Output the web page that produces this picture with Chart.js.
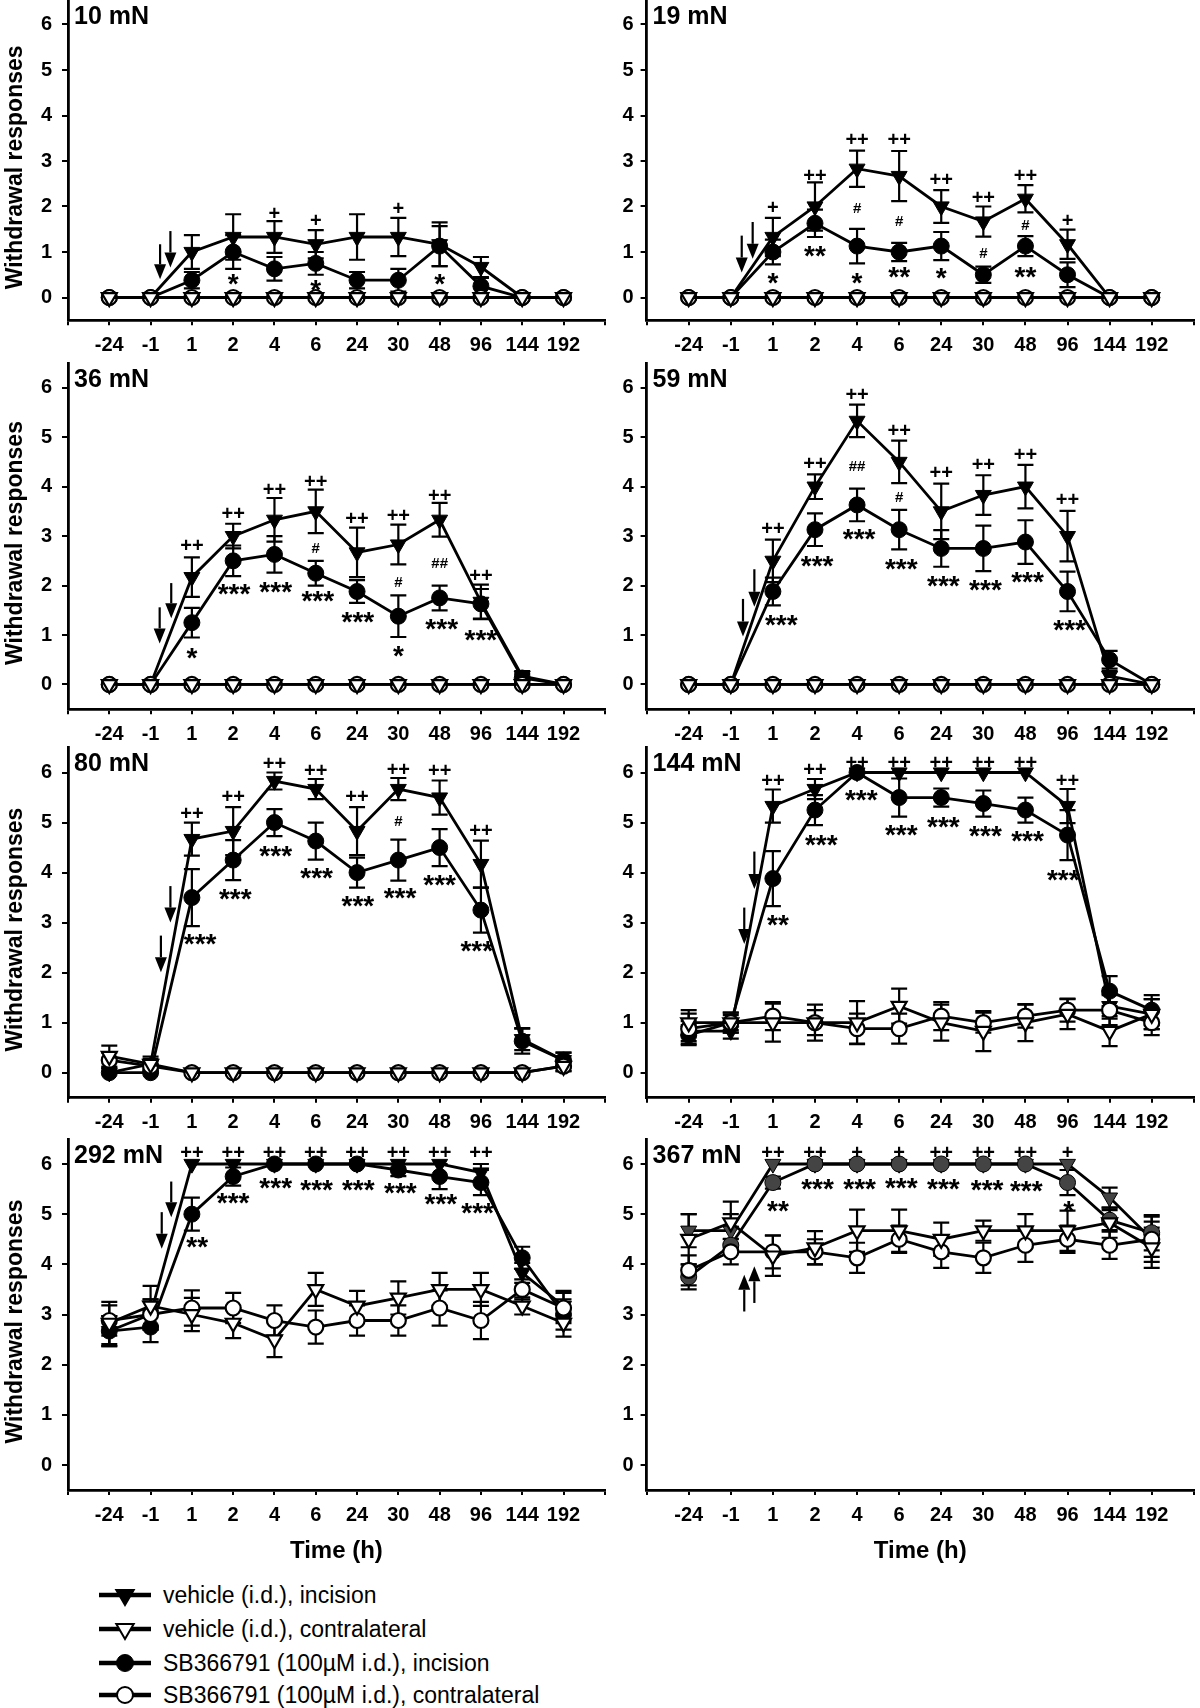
<!DOCTYPE html>
<html>
<head>
<meta charset="utf-8">
<script src="https://cdn.jsdelivr.net/npm/chart.js@4.4.1/dist/chart.umd.min.js"></script>
<style>
  html, body { margin:0; padding:0; background:#fff; }
  body { width:1200px; height:1708px; position:relative; overflow:hidden; font-family:"Liberation Sans", Arial, sans-serif; }
  canvas.panel { position:absolute; }
  .lg { position:absolute; left:99px; height:30px; display:flex; align-items:center; font-size:23px; color:#000; white-space:nowrap; }
  .lg svg { width:52px; height:30px; margin-right:12px; flex:none; }
</style>
</head>
<body>
<script>
// ================= DATA =================
const categories = ['-24','-1','1','2','4','6','24','30','48','96','144','192'];
const xTickIdx = [-1,0,1,2,3,4,5,6,7,8,9,10,11,12];
const yTicks = [0,1,2,3,4,5,6];
const panelLabels = ['10 mN','19 mN','36 mN','59 mN','80 mN','144 mN','292 mN','367 mN'];
const legendLabels = ['vehicle (i.d.), incision','vehicle (i.d.), contralateral','SB366791 (100\u00b5M i.d.), incision','SB366791 (100\u00b5M i.d.), contralateral'];
const yTitle = 'Withdrawal responses';
const xTitle = 'Time (h)';

// 10 mN
const vehInc10    = [0,0,1.0,1.33,1.33,1.17,1.33,1.33,1.17,0.67,0,0];
const vehInc10Sem = [0,0,0.37,0.5,0.35,0.31,0.5,0.42,0.48,0.22,0,0];
const vehCon10    = [0,0,0,0,0,0,0,0,0,0,0,0];
const vehCon10Sem = [0,0,0,0,0,0,0,0,0,0,0,0];
const sbInc10     = [0,0,0.38,1.0,0.63,0.75,0.38,0.38,1.13,0.25,0,0];
const sbInc10Sem  = [0,0,0.18,0.37,0.26,0.25,0.18,0.25,0.44,0.18,0,0];
const sbCon10     = [0,0,0,0,0,0,0,0,0,0,0,0];
const sbCon10Sem  = [0,0,0,0,0,0,0,0,0,0,0,0];
const marks10  = [[4,1.86,'+'],[5,1.71,'+'],[7,1.97,'+'],[3,0.44,'*'],[5,0.31,'*'],[8,0.46,'*']];
const arrows10 = [[1.23,1.17,0.40],[1.48,1.46,0.66]];

// 19 mN
const vehInc19    = [0,0,1.33,2.0,2.83,2.67,2.0,1.67,2.17,1.17,0,0];
const vehInc19Sem = [0,0,0.42,0.53,0.4,0.55,0.36,0.33,0.3,0.32,0,0];
const vehCon19    = [0,0,0,0,0,0,0,0,0,0,0,0];
const vehCon19Sem = [0,0,0,0,0,0,0,0,0,0,0,0];
const sbInc19     = [0,0,1.0,1.63,1.13,1.0,1.13,0.5,1.13,0.5,0,0];
const sbInc19Sem  = [0,0,0.27,0.3,0.38,0.2,0.31,0.18,0.22,0.27,0,0];
const sbCon19     = [0,0,0,0,0,0,0,0,0,0,0,0];
const sbCon19Sem  = [0,0,0,0,0,0,0,0,0,0,0,0];
const marks19  = [[2,1.99,'+'],[3,2.69,'++'],[4,3.48,'++'],[5,3.48,'++'],[6,2.6,'++'],[7,2.21,'++'],[8,2.7,'++'],[9,1.71,'+'],
                  [4,1.97,'#'],[5,1.69,'#'],[7,0.99,'#'],[8,1.61,'#'],
                  [2,0.48,'*'],[3,1.07,'**'],[4,0.48,'*'],[5,0.6,'**'],[6,0.59,'*'],[8,0.6,'**']];
const arrows19 = [[1.26,1.36,0.55],[1.52,1.66,0.85]];

// 36 mN
const vehInc36    = [0,0,2.17,3.0,3.33,3.5,2.67,2.83,3.33,1.67,0.17,0];
const vehInc36Sem = [0,0,0.4,0.25,0.44,0.44,0.5,0.4,0.34,0.35,0.1,0];
const vehCon36    = [0,0,0,0,0,0,0,0,0,0,0,0];
const vehCon36Sem = [0,0,0,0,0,0,0,0,0,0,0,0];
const sbInc36     = [0,0,1.25,2.5,2.63,2.25,1.88,1.38,1.75,1.63,0.13,0];
const sbInc36Sem  = [0,0,0.3,0.31,0.37,0.25,0.23,0.42,0.25,0.3,0.08,0];
const sbCon36     = [0,0,0,0,0,0,0,0,0,0,0,0];
const sbCon36Sem  = [0,0,0,0,0,0,0,0,0,0,0,0];
const marks36  = [[2,2.81,'++'],[3,3.47,'++'],[4,3.96,'++'],[5,4.11,'++'],[6,3.37,'++'],[7,3.42,'++'],[8,3.84,'++'],[9,2.22,'++'],
                  [5,2.77,'#'],[7,2.08,'#'],[8,2.46,'##'],
                  [2,0.67,'*'],[3.02,1.97,'***'],[4.03,2.02,'***'],[5.05,1.82,'***'],[6.02,1.4,'***'],[7,0.71,'*'],[8.05,1.27,'***'],[9,1.04,'***']];
const arrows36 = [[1.22,1.56,0.83],[1.5,2.05,1.34]];

// 59 mN
const vehInc59    = [0,0,2.5,4.0,5.33,4.5,3.5,3.83,4.0,3.0,0.17,0];
const vehInc59Sem = [0,0,0.43,0.25,0.33,0.43,0.56,0.4,0.44,0.51,0.1,0];
const vehCon59    = [0,0,0,0,0,0,0,0,0,0,0,0];
const vehCon59Sem = [0,0,0,0,0,0,0,0,0,0,0,0];
const sbInc59     = [0,0,1.88,3.13,3.63,3.13,2.75,2.75,2.88,1.88,0.5,0];
const sbInc59Sem  = [0,0,0.28,0.33,0.33,0.4,0.37,0.46,0.44,0.4,0.18,0];
const sbCon59     = [0,0,0,0,0,0,0,0,0,0,0,0];
const sbCon59Sem  = [0,0,0,0,0,0,0,0,0,0,0,0];
const marks59  = [[2,3.17,'++'],[3,4.48,'++'],[4,5.88,'++'],[5,5.15,'++'],[6,4.29,'++'],[7,4.46,'++'],[8,4.65,'++'],[9,3.76,'++'],
                  [4,4.42,'##'],[5,3.79,'#'],
                  [2.2,1.35,'***'],[3.05,2.53,'***'],[4.05,3.08,'***'],[5.05,2.48,'***'],[6.05,2.14,'***'],[7.05,2.06,'***'],[8.05,2.21,'***'],[9.05,1.24,'***']];
const arrows59 = [[1.29,1.73,0.97],[1.56,2.33,1.57]];

// 80 mN
const vehInc80    = [0,0.17,4.67,4.83,5.83,5.67,4.83,5.67,5.5,4.17,0.67,0.25];
const vehInc80Sem = [0,0.1,0.33,0.48,0.17,0.2,0.48,0.22,0.34,0.47,0.22,0.15];
const vehCon80    = [0.33,0.17,0,0,0,0,0,0,0,0,0,0.13];
const vehCon80Sem = [0.21,0.15,0,0,0,0,0,0,0,0,0,0.1];
const sbInc80     = [0,0,3.5,4.25,5.0,4.63,4.0,4.25,4.5,3.25,0.63,0.25];
const sbInc80Sem  = [0,0,0.57,0.4,0.27,0.37,0.3,0.41,0.37,0.45,0.25,0.15];
const sbCon80     = [0.25,0.13,0,0,0,0,0,0,0,0,0,0.13];
const sbCon80Sem  = [0.15,0.1,0,0,0,0,0,0,0,0,0,0.1];
const marks80  = [[2,5.19,'++'],[3,5.54,'++'],[4,6.19,'++'],[5,6.05,'++'],[6,5.54,'++'],[7,6.07,'++'],[8,6.05,'++'],[9,4.86,'++'],
                  [7,5.03,'#'],
                  [2.2,2.71,'***'],[3.05,3.61,'***'],[4.03,4.48,'***'],[5.02,4.03,'***'],[6.02,3.47,'***'],[7.04,3.63,'***'],[8,3.9,'***'],[8.9,2.57,'***']];
const arrows80 = [[1.48,3.73,3.0],[1.25,2.74,2.01]];

// 144 mN
const vehInc144    = [0.83,0.83,5.33,5.67,6.0,6.0,6.0,6.0,6.0,5.33,1.33,1.17];
const vehInc144Sem = [0.2,0.15,0.33,0.2,0,0,0,0,0,0.34,0.25,0.3];
const vehCon144    = [1.0,1.0,1.0,1.0,1.0,1.33,1.0,0.83,1.0,1.17,0.83,1.17];
const vehCon144Sem = [0.25,0.2,0.38,0.36,0.43,0.35,0.36,0.4,0.37,0.3,0.3,0.3];
const sbInc144     = [0.75,1.0,3.88,5.25,6.0,5.5,5.5,5.38,5.25,4.75,1.63,1.25];
const sbInc144Sem  = [0.2,0.15,0.55,0.3,0,0.38,0.18,0.26,0.25,0.5,0.3,0.3];
const sbCon144     = [0.88,1.0,1.13,1.0,0.88,0.88,1.13,1.0,1.13,1.25,1.25,1.0];
const sbCon144Sem  = [0.3,0.2,0.28,0.25,0.3,0.3,0.28,0.2,0.23,0.23,0.3,0.25];
const marks144  = [[2,5.85,'++'],[3,6.07,'++'],[4,6.22,'++'],[5,6.22,'++'],[6,6.22,'++'],[7,6.22,'++'],[8,6.22,'++'],[9,5.85,'++'],
                   [2.12,3.1,'**'],[3.15,4.7,'***'],[4.1,5.58,'***'],[5.05,4.9,'***'],[6.05,5.06,'***'],[7.05,4.88,'***'],[8.05,4.78,'***'],[8.9,4.0,'***']];
const arrows144 = [[1.56,4.42,3.67],[1.32,3.3,2.57]];

// 292 mN
const vehInc292    = [2.67,3.0,6.0,6.0,6.0,6.0,6.0,6.0,6.0,5.83,3.83,3.17];
const vehInc292Sem = [0.3,0.3,0,0,0,0,0,0,0,0.17,0.2,0.3];
const vehCon292    = [2.83,3.17,3.0,2.83,2.5,3.5,3.17,3.33,3.5,3.5,3.17,2.83];
const vehCon292Sem = [0.42,0.4,0.33,0.3,0.35,0.33,0.3,0.33,0.33,0.33,0.17,0.27];
const sbInc292     = [2.67,2.75,5.0,5.75,6.0,6.0,6.0,5.88,5.75,5.63,4.13,3.0];
const sbInc292Sem  = [0.3,0.3,0.33,0.18,0,0,0,0.12,0.25,0.25,0.22,0.3];
const sbCon292     = [2.88,3.0,3.13,3.13,2.88,2.75,2.88,2.88,3.13,2.88,3.5,3.13];
const sbCon292Sem  = [0.3,0.3,0.35,0.3,0.3,0.33,0.3,0.3,0.35,0.37,0.2,0.3];
const marks292  = [[2,6.24,'++'],[3,6.24,'++'],[4,6.24,'++'],[5,6.24,'++'],[6,6.24,'++'],[7,6.24,'++'],[8,6.24,'++'],[9,6.24,'++'],
                   [2.13,4.49,'**'],[3,5.37,'***'],[4.03,5.67,'***'],[5.02,5.63,'***'],[6.03,5.63,'***'],[7.05,5.57,'***'],[8.03,5.34,'***'],[8.92,5.17,'***']];
const arrows292 = [[1.5,5.65,4.94],[1.27,5.04,4.31]];

// 367 mN
const vehInc367    = [4.67,4.67,6.0,6.0,6.0,6.0,6.0,6.0,6.0,6.0,5.33,4.5];
const vehInc367Sem = [0.33,0.33,0,0,0,0,0,0,0,0,0.2,0.45];
const vehCon367    = [4.5,4.83,4.17,4.33,4.67,4.67,4.5,4.67,4.67,4.67,4.83,4.33];
const vehCon367Sem = [0.5,0.42,0.4,0.33,0.42,0.42,0.33,0.2,0.33,0.4,0.3,0.4];
const sbInc367     = [3.75,4.38,5.63,6.0,6.0,6.0,6.0,6.0,6.0,5.63,4.88,4.63];
const sbInc367Sem  = [0.25,0.13,0.12,0,0,0,0,0,0,0.25,0.2,0.35];
const sbCon367     = [3.88,4.25,4.25,4.25,4.13,4.5,4.25,4.13,4.38,4.5,4.38,4.5];
const sbCon367Sem  = [0.3,0.25,0.33,0.25,0.3,0.27,0.32,0.3,0.33,0.27,0.27,0.35];
const marks367  = [[2,6.24,'++'],[3,6.24,'++'],[4,6.24,'+'],[5,6.24,'+'],[6,6.24,'++'],[7,6.24,'++'],[8,6.24,'++'],[9,6.24,'+'],
                   [2.12,5.2,'**'],[3.06,5.65,'***'],[4.06,5.65,'***'],[5.05,5.66,'***'],[6.05,5.65,'***'],[7.09,5.63,'***'],[8.02,5.61,'***'],[9.03,5.2,'*']];
const arrows367 = [[1.32,3.06,3.79],[1.56,3.23,3.96]];

// ================= LAYOUT / STYLE =================
const FONT = '"Liberation Sans", Arial, sans-serif';
const COLS = [{L:68, R:608, yw:68, lpad:10}, {L:646.6, R:1196.6, yw:56, lpad:7}];
const ROWS = [{T:1.75,B:320.25},{T:363,B:709.2},{T:747.5,B:1097.7},{T:1138.9,B:1490.1}];
const PAD_TOP = 26, PAD_RIGHT = 8;
const LEGEND_Y = [1595, 1629, 1663, 1695];

const panels = [
  {label:panelLabels[0], col:0,row:0, vi:vehInc10, viS:vehInc10Sem, vc:vehCon10, vcS:vehCon10Sem, si:sbInc10, siS:sbInc10Sem, sc:sbCon10, scS:sbCon10Sem, marks:marks10, arrows:arrows10, fill:'#000'},
  {label:panelLabels[1], col:1,row:0, vi:vehInc19, viS:vehInc19Sem, vc:vehCon19, vcS:vehCon19Sem, si:sbInc19, siS:sbInc19Sem, sc:sbCon19, scS:sbCon19Sem, marks:marks19, arrows:arrows19, fill:'#000'},
  {label:panelLabels[2], col:0,row:1, vi:vehInc36, viS:vehInc36Sem, vc:vehCon36, vcS:vehCon36Sem, si:sbInc36, siS:sbInc36Sem, sc:sbCon36, scS:sbCon36Sem, marks:marks36, arrows:arrows36, fill:'#000'},
  {label:panelLabels[3], col:1,row:1, vi:vehInc59, viS:vehInc59Sem, vc:vehCon59, vcS:vehCon59Sem, si:sbInc59, siS:sbInc59Sem, sc:sbCon59, scS:sbCon59Sem, marks:marks59, arrows:arrows59, fill:'#000'},
  {label:panelLabels[4], col:0,row:2, vi:vehInc80, viS:vehInc80Sem, vc:vehCon80, vcS:vehCon80Sem, si:sbInc80, siS:sbInc80Sem, sc:sbCon80, scS:sbCon80Sem, marks:marks80, arrows:arrows80, fill:'#000'},
  {label:panelLabels[5], col:1,row:2, vi:vehInc144, viS:vehInc144Sem, vc:vehCon144, vcS:vehCon144Sem, si:sbInc144, siS:sbInc144Sem, sc:sbCon144, scS:sbCon144Sem, marks:marks144, arrows:arrows144, fill:'#000'},
  {label:panelLabels[6], col:0,row:3, vi:vehInc292, viS:vehInc292Sem, vc:vehCon292, vcS:vehCon292Sem, si:sbInc292, siS:sbInc292Sem, sc:sbCon292, scS:sbCon292Sem, marks:marks292, arrows:arrows292, fill:'#000'},
  {label:panelLabels[7], col:1,row:3, vi:vehInc367, viS:vehInc367Sem, vc:vehCon367, vcS:vehCon367Sem, si:sbInc367, siS:sbInc367Sem, sc:sbCon367, scS:sbCon367Sem, marks:marks367, arrows:arrows367, fill:'#444'}
];

function makeDs(vals, sem, shape, filled, order, fillColor) {
  const tri = shape === 'triangle';
  return {
    data: vals.map((v, i) => ({x: i, y: v})),
    errorBars: sem,
    borderColor: '#000', borderWidth: 2.8,
    pointStyle: shape, pointRotation: tri ? 180 : 0,
    pointRadius: tri ? (filled ? 9.2 : 8.6) : (filled ? 8 : 7.5),
    pointHoverRadius: tri ? 9 : 8,
    pointBackgroundColor: filled ? fillColor : '#fff',
    pointBorderColor: '#000', pointBorderWidth: filled ? 1 : 2.2,
    fill: false, tension: 0, order: order, clip: false
  };
}

const errorBarPlugin = {
  id: 'errorBars',
  beforeDatasetsDraw(chart) {
    const {ctx} = chart; const xs = chart.scales.x, ys = chart.scales.y;
    const CAP = 8;
    ctx.save(); ctx.strokeStyle = '#000'; ctx.lineWidth = 2.2;
    chart.data.datasets.forEach(d => {
      const sem = d.errorBars; if (!sem) return;
      d.data.forEach((pt, i) => {
        const e = sem[i]; if (!e) return;
        const px = xs.getPixelForValue(pt.x);
        const y1 = ys.getPixelForValue(pt.y + e), y2 = ys.getPixelForValue(pt.y - e);
        ctx.beginPath();
        ctx.moveTo(px, y1); ctx.lineTo(px, y2);
        ctx.moveTo(px - CAP, y1); ctx.lineTo(px + CAP, y1);
        ctx.moveTo(px - CAP, y2); ctx.lineTo(px + CAP, y2);
        ctx.stroke();
      });
    });
    ctx.restore();
  }
};

function markStyle(t) {
  if (t[0] === '*') return {size: 28, k: 0.57};
  if (t[0] === '#') return {size: 15, k: 0.36};
  return {size: 20, k: 0.35};
}

function annotPlugin(p) {
  return {
    id: 'annot',
    afterDatasetsDraw(chart) {
      const {ctx, chartArea} = chart; const xs = chart.scales.x, ys = chart.scales.y;
      ctx.save();
      ctx.fillStyle = '#000'; ctx.strokeStyle = '#000';
      ctx.textAlign = 'center'; ctx.textBaseline = 'alphabetic';
      p.marks.forEach(m => {
        const st = markStyle(m[2]);
        ctx.font = 'bold ' + st.size + 'px ' + FONT;
        ctx.fillText(m[2], xs.getPixelForValue(m[0]), ys.getPixelForValue(m[1]) + st.k * st.size);
      });
      p.arrows.forEach(a => {
        const x = xs.getPixelForValue(a[0]);
        const y0 = ys.getPixelForValue(a[1]), y1 = ys.getPixelForValue(a[2]);
        const dir = Math.sign(y1 - y0), hl = 15, hw = 6;
        ctx.lineWidth = 2.2;
        ctx.beginPath(); ctx.moveTo(x, y0); ctx.lineTo(x, y1 - dir * hl); ctx.stroke();
        ctx.beginPath(); ctx.moveTo(x, y1); ctx.lineTo(x - hw, y1 - dir * hl); ctx.lineTo(x + hw, y1 - dir * hl); ctx.closePath(); ctx.fill();
      });
      ctx.textAlign = 'left';
      ctx.font = 'bold 25px ' + FONT;
      ctx.fillText(p.label, chartArea.left + 6, ys.getPixelForValue(6.2) + 0.358 * 25);
      if (p.col === 0) {
        ctx.save();
        ctx.translate(16, ys.getPixelForValue(2.86));
        ctx.rotate(-Math.PI / 2);
        ctx.textAlign = 'center'; ctx.textBaseline = 'middle';
        ctx.font = 'bold 23px ' + FONT;
        ctx.fillText(yTitle, 0, 0);
        ctx.restore();
      }
      ctx.restore();
    }
  };
}

panels.forEach(p => {
  const c = COLS[p.col], r = ROWS[p.row];
  const xh = p.row === 3 ? 84 : 40;
  const left = c.L - c.yw, top = r.T - PAD_TOP;
  const cl = Math.floor(left), ct = Math.floor(top);
  const padL = left - cl, padT = PAD_TOP + (top - ct);
  const plotW = c.R - c.L, plotH = r.B - r.T;
  const W = Math.ceil(padL + c.yw + plotW + PAD_RIGHT);
  const H = Math.ceil(padT + plotH + xh + 2);
  const padR = W - padL - c.yw - plotW;
  const padB = H - padT - plotH - xh;

  const cv = document.createElement('canvas');
  cv.className = 'panel';
  cv.width = W; cv.height = H;
  cv.style.left = cl + 'px'; cv.style.top = ct + 'px';
  cv.style.width = W + 'px'; cv.style.height = H + 'px';
  document.body.appendChild(cv);

  const tickFont = {family: FONT, size: 20, weight: 'bold'};
  new Chart(cv.getContext('2d'), {
    type: 'line',
    data: {
      datasets: [
        makeDs(p.vi, p.viS, 'triangle', true, 4, p.fill),
        makeDs(p.si, p.siS, 'circle', true, 3, p.fill),
        makeDs(p.sc, p.scS, 'circle', false, 2, '#fff'),
        makeDs(p.vc, p.vcS, 'triangle', false, 1, '#fff')
      ]
    },
    options: {
      responsive: false, animation: false, devicePixelRatio: 1, events: [],
      layout: {padding: {left: padL, top: padT, right: padR, bottom: padB}},
      plugins: {legend: {display: false}, tooltip: {enabled: false}, title: {display: false}},
      scales: {
        x: {
          type: 'linear', position: 'bottom', min: -1, max: 12,
          afterBuildTicks: s => { s.ticks = xTickIdx.map(v => ({value: v})); },
          afterFit: s => { s.height = xh; },
          ticks: {autoSkip: false, maxRotation: 0, minRotation: 0, padding: 8, color: '#000', font: tickFont,
                  callback: v => (v >= 0 && v < categories.length) ? categories[v] : ''},
          grid: {drawOnChartArea: false, drawTicks: true, tickLength: 5, color: '#000', lineWidth: 2},
          border: {display: true, color: '#000', width: 2.8},
          title: {display: p.row === 3, text: xTitle, color: '#000', font: {family: FONT, size: 24, weight: 'bold'}, padding: {top: 0, bottom: 8.6}}
        },
        y: {
          type: 'linear', position: 'left', min: -0.5, max: 6.5,
          afterBuildTicks: s => { s.ticks = yTicks.map(v => ({value: v})); },
          afterFit: s => { s.width = c.yw; },
          ticks: {padding: c.lpad, color: '#000', font: tickFont, callback: v => String(v)},
          grid: {drawOnChartArea: false, drawTicks: true, tickLength: 6, color: '#000', lineWidth: 2},
          border: {display: true, color: '#000', width: 2.8}
        }
      }
    },
    plugins: [errorBarPlugin, annotPlugin(p)]
  });
});

// ================= LEGEND =================
const legendSymbols = [
  '<polygon points="26,25 17.3,10 34.7,10" fill="#000" stroke="#000" stroke-width="2"/>',
  '<polygon points="26,25 17.3,10 34.7,10" fill="#fff" stroke="#000" stroke-width="2"/>',
  '<circle cx="26" cy="15" r="8.5" fill="#000" stroke="#000" stroke-width="1"/>',
  '<circle cx="26" cy="15" r="8" fill="#fff" stroke="#000" stroke-width="2"/>'
];
legendLabels.forEach((txt, i) => {
  const row = document.createElement('div');
  row.className = 'lg';
  row.style.top = (LEGEND_Y[i] - 15) + 'px';
  row.innerHTML = '<svg viewBox="0 0 52 30"><line x1="0" y1="15" x2="52" y2="15" stroke="#000" stroke-width="4.5"/>' + legendSymbols[i] + '</svg>';
  const span = document.createElement('span');
  span.textContent = txt;
  row.appendChild(span);
  document.body.appendChild(row);
});
</script>
</body>
</html>
